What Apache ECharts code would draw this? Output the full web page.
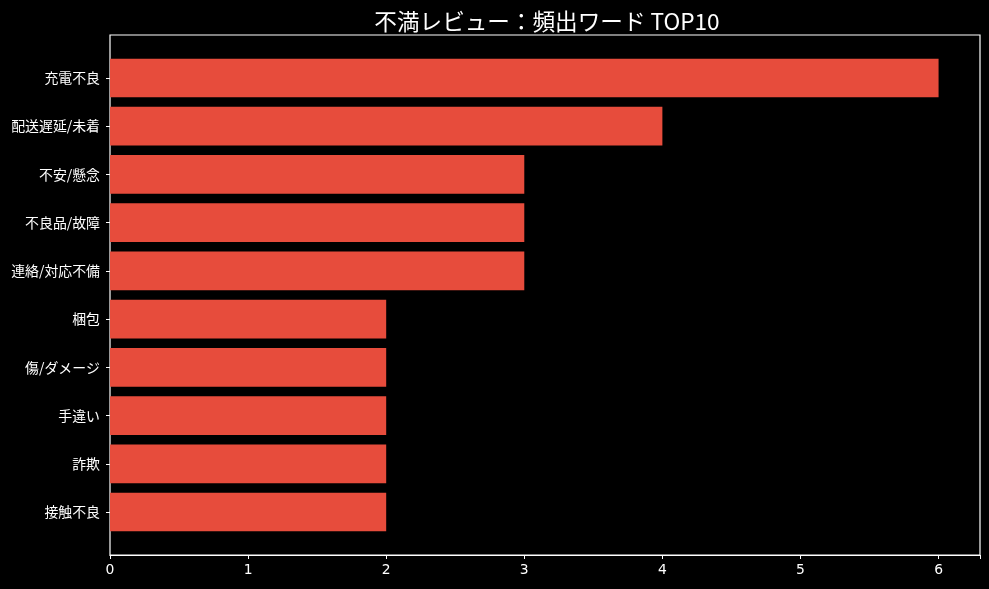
<!DOCTYPE html>
<html>
<head>
<meta charset="utf-8">
<script src="https://cdn.jsdelivr.net/npm/echarts@6/dist/echarts.min.js"></script>
<style>html,body{margin:0;padding:0;background:#000;}#c{width:989px;height:589px;}</style>
</head>
<body>
<div id="c"></div>
<script>
const categories = ['充電不良', '配送遅延/未着', '不安/懸念', '不良品/故障', '連絡/対応不備', '梱包', '傷/ダメージ', '手違い', '詐欺', '接触不良'];
const counts = [6, 4, 3, 3, 3, 2, 2, 2, 2, 2];
const xTicks = [0, 1, 2, 3, 4, 5, 6];
const titleText = '不満レビュー：頻出ワード TOP10';

const chart = echarts.init(document.getElementById('c'), null, {renderer: 'canvas'});
const fontTick = "'DejaVu Sans', 'Noto Sans CJK JP', sans-serif";
const fontCJK = "'Noto Sans CJK JP', 'DejaVu Sans', sans-serif";
const L = 110, R = 9, T = 35, B = 34;
// matplotlib-like padding: bars at 0..9, height 0.8, margin 5%
const span = 10.78, pxPerUnit = (589 - T - B) / span;
const innerTop = T + (0.89 - 0.5) * pxPerUnit;
const innerH = 10 * pxPerUnit;

chart.setOption({
  backgroundColor: '#000',
  animation: false,
  title: {
    text: titleText,
    left: 542,
    textAlign: 'center',
    top: 5,
    textStyle: {color: '#fff', fontSize: 22.6, fontWeight: 'normal', fontFamily: fontCJK}
  },
  grid: [
    {left: L, right: R, top: T, bottom: B, show: true, borderColor: '#fff', borderWidth: 1.2, backgroundColor: 'transparent'},
    {left: L, right: R, top: innerTop, height: innerH, show: false}
  ],
  xAxis: [
    {gridIndex: 0, type: 'value', min: 0, max: 6.3, interval: 1,
     axisLine: {show: true, lineStyle: {color: '#fff', width: 1.2}},
     axisTick: {show: true, length: 4, lineStyle: {color: '#fff'}},
     axisLabel: {color: '#fff', fontSize: 13.9, fontFamily: fontTick, margin: 8,
       formatter: v => xTicks.includes(v) ? String(v) : ''},
     splitLine: {show: false}},
    {gridIndex: 1, type: 'value', min: 0, max: 6.3, show: false, splitLine: {show: false}}
  ],
  yAxis: [
    {gridIndex: 0, type: 'value', min: 0, max: 1, show: false, splitLine: {show: false}},
    {gridIndex: 1, type: 'category', data: categories, inverse: true,
     axisLine: {show: false},
     axisTick: {show: true, alignWithLabel: true, length: 4, lineStyle: {color: '#fff'}},
     axisLabel: {color: '#fff', fontSize: 13.9, fontFamily: fontCJK, margin: 10},
     splitLine: {show: false}}
  ],
  series: [{
    type: 'bar',
    xAxisIndex: 1,
    yAxisIndex: 1,
    data: counts,
    barWidth: '80%',
    itemStyle: {color: '#E74C3C'}
  }]
});
</script>
</body>
</html>
